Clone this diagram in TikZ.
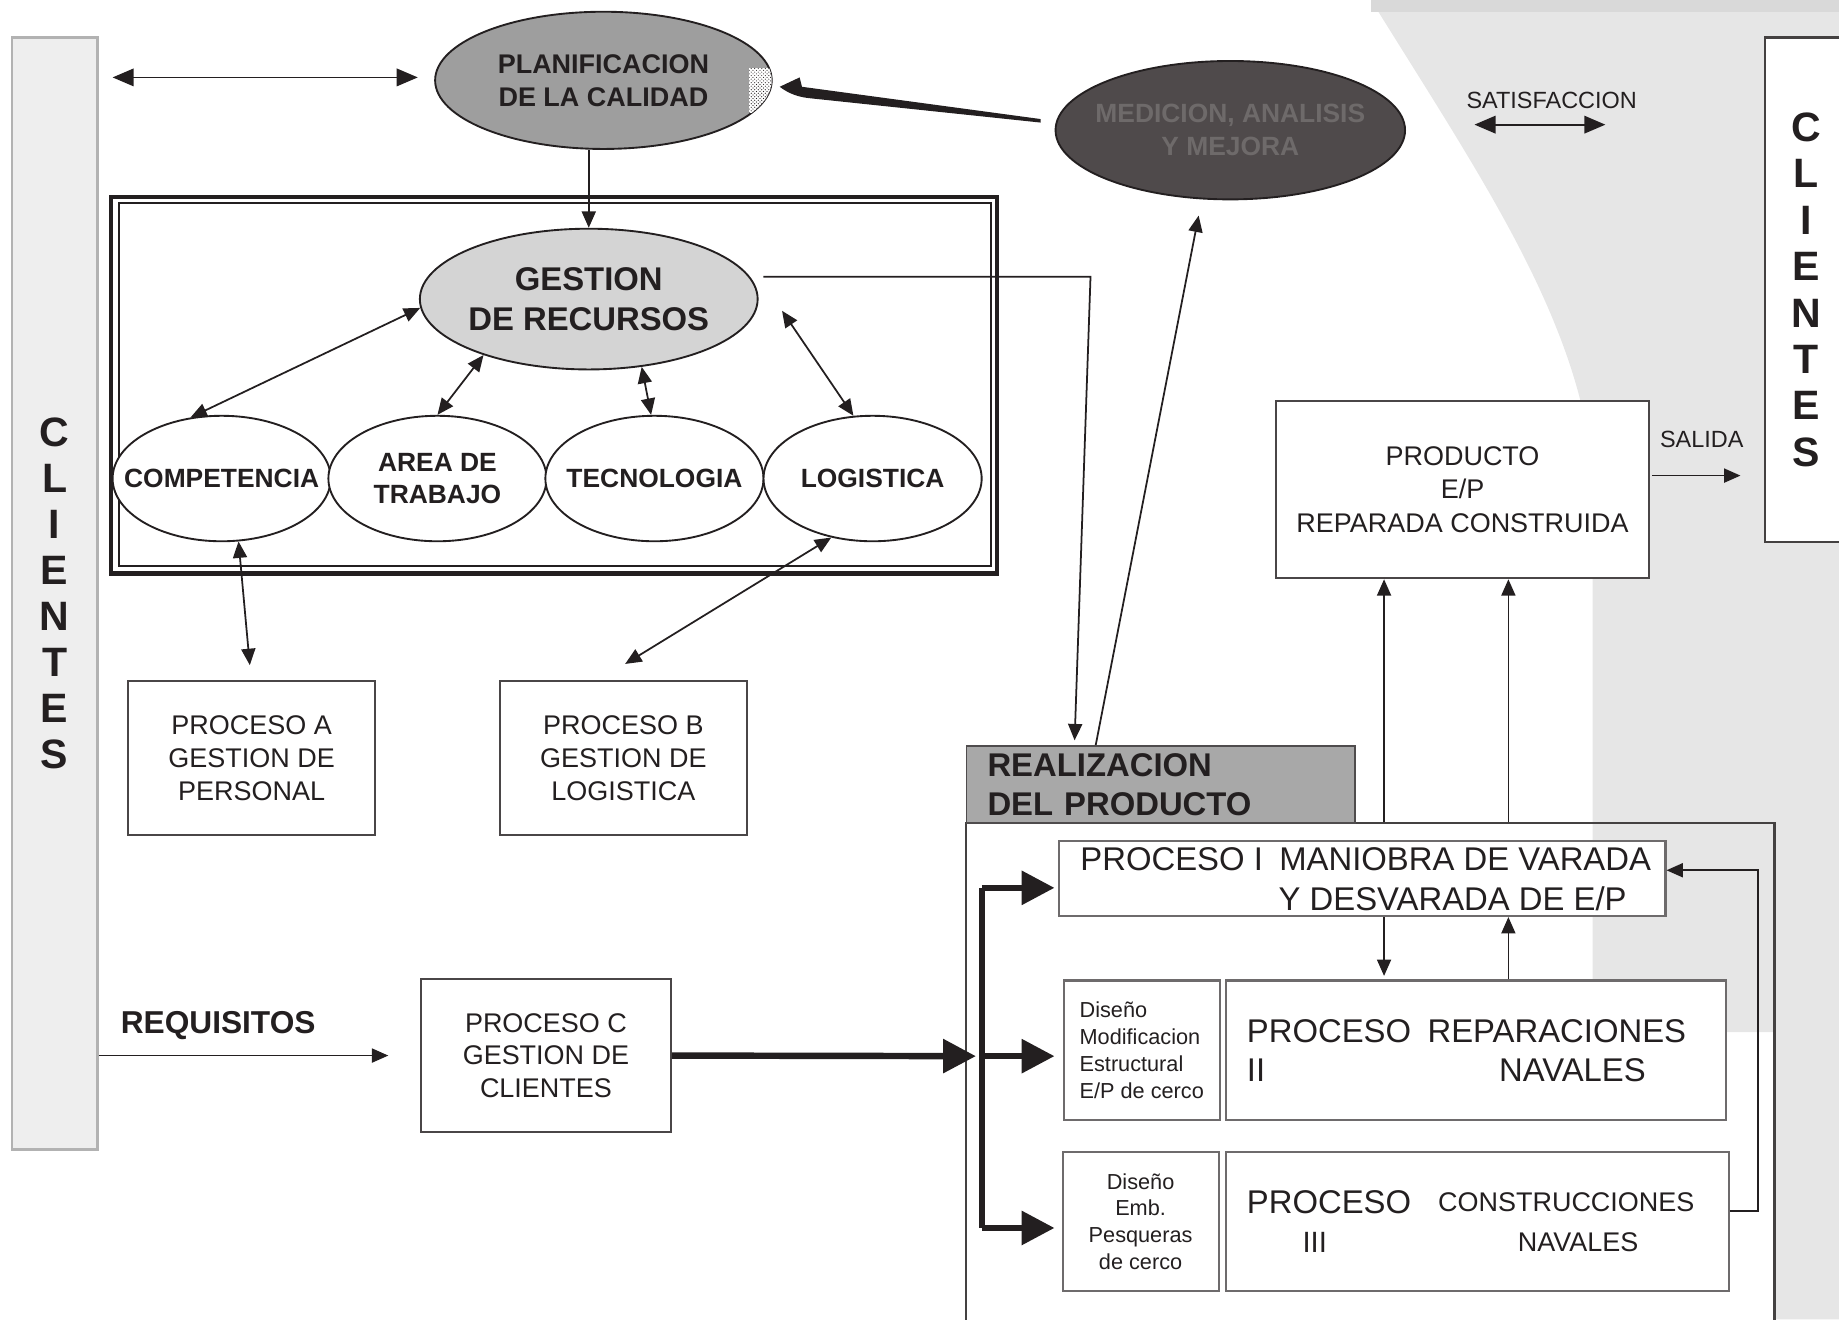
\documentclass[tikz,border=0pt]{standalone}
\usepackage{fontspec}
\setmainfont{Liberation Sans}
\usetikzlibrary{arrows.meta,calc,shapes.geometric,patterns}
\definecolor{ink}{HTML}{231F20}
\definecolor{boxc}{HTML}{4A4647}
\definecolor{medc}{HTML}{4F4A4B}
\definecolor{medt}{HTML}{6E6A6A}
\definecolor{planc}{HTML}{9E9E9E}
\definecolor{gestc}{HTML}{D4D4D4}
\definecolor{headc}{HTML}{A8A8A8}
\definecolor{bgc}{HTML}{E6E6E6}
\definecolor{barc}{HTML}{EEEEEE}
\newcommand\fsz[2]{\fontsize{#1}{#2}\selectfont}
\begin{document}
\begin{tikzpicture}[x=1pt,y=-1pt,
  thintip/.tip={Triangle[length=14pt,width=12pt]},
  widetip/.tip={Triangle[length=18pt,width=15pt]},
  fattip/.tip={Triangle[length=28pt,width=28pt]},
  ln/.style={draw=ink,line width=1.5pt},
  arr/.style={ln,-thintip},
  darr/.style={ln,thintip-thintip},
  wdarr/.style={ln,widetip-widetip},
  fat/.style={draw=ink,line width=5.5pt},
  fatarr/.style={fat,-fattip},
  box/.style={draw=boxc,line width=1.8pt,fill=white,inner sep=0pt,align=center,text=ink},
  oval/.style={ellipse,draw=ink,line width=1.6pt,inner sep=0pt},
  txt/.style={inner sep=0pt,text=ink,align=center},
]
\useasboundingbox (0,0) rectangle (1568,1125);
\clip (0,0) rectangle (1568,1125);

% soft grey backdrop on the right
\fill[bgc] (1169,0) .. controls (1262,150) and (1345,270) .. (1358,400)
  -- (1358,880) -- (1513,880) -- (1513,1125) -- (1568,1125) -- (1568,0) -- cycle;
\fill[gray!30] (1169,0) rectangle (1568,10);

% customers, both sides
\node[draw=gray!60,line width=2pt,fill=barc,minimum width=73,minimum height=948,
  inner sep=0,align=center,text=ink,font=\fsz{35}{39.3}\bfseries] (cl) at (46.5,506)
  {C\\L\\I\\E\\N\\T\\E\\S};
\node[draw=ink!85,line width=2pt,fill=white,minimum width=70,minimum height=430,
  inner sep=0,align=center,text=ink,font=\fsz{35}{39.6}\bfseries] (cr) at (1540,247)
  {C\\L\\I\\E\\N\\T\\E\\S};

% product realization frame
\node[draw=ink!85,line width=1.8pt,minimum width=689,minimum height=446,inner sep=0] (rf) at (1168.5,925) {};
\node[draw=ink!80,line width=1.5pt,fill=headc,minimum width=331,minimum height=66,inner sep=0,
  text width=295,align=left,text=ink,font=\fsz{28}{33}\bfseries] (rh) at (989.5,669)
  {REALIZACION\\DEL PRODUCTO};

% top ellipses
\node[oval,fill=planc,minimum width=287,minimum height=117] (pq) at (514.5,68.5) {};
\node[txt,font=\fsz{23}{28}\bfseries] (pqt) at (pq) {PLANIFICACION\\DE LA CALIDAD};
\begin{scope}
  \clip (514.5,68.5) ellipse [x radius=143.5, y radius=58.5];
  \fill[white] (639,58) rectangle (660,96);
  \fill[pattern=crosshatch dots,pattern color=ink] (639,58) rectangle (660,96);
\end{scope}
\node[oval,fill=medc,minimum width=298,minimum height=118] (md) at (1049,111) {};
\node[txt,text=medt,font=\fsz{22.5}{28}\bfseries] (mdt) at (md) {MEDICION, ANALISIS\\Y MEJORA};

% resources block
\node[draw=ink,line width=3.5pt,minimum width=755,minimum height=321,inner sep=0] (rb) at (472.5,328.5) {};
\draw[ink,line width=1.5pt] ($(rb.south west)+(8,-8)$) rectangle ($(rb.north east)+(-7,7)$);
\node[oval,fill=gestc,minimum width=288,minimum height=120] (gr) at (502,255) {};
\node[txt,font=\fsz{28}{34}\bfseries] (grt) at (gr) {GESTION\\DE RECURSOS};
\node[oval,fill=white,minimum width=186,minimum height=107] (cp) at (189,408) {};
\node[oval,fill=white,minimum width=186,minimum height=107] (ar) at (373,408) {};
\node[oval,fill=white,minimum width=186,minimum height=107] (tc) at (558,408) {};
\node[oval,fill=white,minimum width=186,minimum height=107] (lg) at (744,408) {};
\node[txt,font=\fsz{22.5}{28}\bfseries] (cpt) at (cp) {COMPETENCIA};
\node[txt,font=\fsz{22.5}{28}\bfseries] (art) at (ar) {AREA DE\\TRABAJO};
\node[txt,font=\fsz{22.5}{28}\bfseries] (tct) at (tc) {TECNOLOGIA};
\node[txt,font=\fsz{22.5}{28}\bfseries] (lgt) at (lg) {LOGISTICA};

% process boxes
\node[box,minimum width=211,minimum height=131,font=\fsz{23}{28}] (pa) at (214.5,646.5) {PROCESO A\\GESTION DE\\PERSONAL};
\node[box,minimum width=211,minimum height=131,font=\fsz{23}{28}] (pb) at (531.5,646.5) {PROCESO B\\GESTION DE\\LOGISTICA};
\node[box,minimum width=213,minimum height=130,font=\fsz{23}{28}] (pc) at (465.5,900) {PROCESO C\\GESTION DE\\CLIENTES};
\node[box,minimum width=318,minimum height=151,font=\fsz{23}{28.5}] (pr) at (1247,417.5) {PRODUCTO\\E/P\\REPARADA CONSTRUIDA};

\node[box,draw=boxc!80,minimum width=517,minimum height=64] (p1) at (1161.5,749) {};
\node[box,draw=boxc!80,minimum width=133,minimum height=119,align=left,font=\fsz{18.5}{23}] (d1) at (973.5,895.5)
  {Diseño\\Modificacion\\Estructural\\E/P de cerco};
\node[box,draw=boxc!80,minimum width=427,minimum height=119] (p2) at (1258.5,895.5) {};
\node[box,draw=boxc!80,minimum width=133,minimum height=119,font=\fsz{18.5}{22.7}] (d2) at (972.5,1041.5)
  {Diseño\\Emb.\\Pesqueras\\de cerco};
\node[box,draw=boxc!80,minimum width=429,minimum height=119] (p3) at (1259.5,1041.5) {};

\node[txt,anchor=base west,font=\fsz{28}{34}] (p1a) at (921,742) {PROCESO I\hspace{14pt}MANIOBRA DE VARADA};
\node[txt,anchor=base west,font=\fsz{28}{34}] (p1b) at (1090,776) {Y DESVARADA DE E/P};
\node[txt,anchor=base west,font=\fsz{28}{34}] (p2a) at (1063,889) {PROCESO\hspace{14pt}REPARACIONES};
\node[txt,anchor=base west,font=\fsz{28}{34}] (p2b) at (1063,922) {II};
\node[txt,anchor=base west,font=\fsz{28}{34}] (p2c) at (1278,922) {NAVALES};
\node[txt,anchor=base west,font=\fsz{28}{34}] (p3a) at (1063,1035) {PROCESO};
\node[txt,anchor=base west,font=\fsz{23}{28}] (p3b) at (1226,1033) {CONSTRUCCIONES};
\node[txt,anchor=base,font=\fsz{25}{28}] (p3c) at (1121,1068) {III};
\node[txt,anchor=base west,font=\fsz{23}{28}] (p3d) at (1294,1067) {NAVALES};

% free labels
\node[txt,font=\fsz{27}{30}\bfseries] (rq) at (186,874) {REQUISITOS};
\node[txt,font=\fsz{20}{24}] (sat) at (1323,86) {SATISFACCION};
\node[txt,font=\fsz{20}{24}] (sal) at (1451,375) {SALIDA};

% planning links
\draw[wdarr] ($(cl.east|-pq.west)+(12,-2.5)$) -- ($(pq.west)+(-14,-2.5)$);
\draw[arr] (gr.north|-pq.south) -- (gr.north);
\coordinate (swT) at ($(pq.east)+(6,5.5)$);
\coordinate (swS) at ($(md.west)+(-12,-8)$);
\fill[ink] (swT) -- ($(swT)+(17,-8)$) -- ($(swT)+(19,0)$) -- ($(swS)+(0,-1.5)$) -- ($(swS)+(0,1.5)$)
  -- ($(swT)+(28,10)$) .. controls ($(swT)+(16,9)$) and ($(swT)+(8,6)$) .. (swT) -- cycle;

% resource links
\draw[darr] (gr.183) -- (cp.117);
\draw[darr] (gr.208) -- (ar.north);
\draw[darr] (gr.-52) -- (tc.93);
\draw[darr] ($(gr.east)+(20,10)$) -- (lg.107);
\draw[darr] (cp.-75) -- ($(pa.north)+(-1.5,-13)$);
\draw[darr] (lg.235) -- ($(pb.north)+(1.5,-14)$);

% links to realization and measurement
\draw[arr] ($(gr.east)+(4,-19)$) -- ($(gr.east)+(283,-19)$) -- ($(rh.north west)+(93,-4)$);
\draw[arr] ($(rh.north west)+(111,0)$) -- ($(md.south)+(-27,13)$);
\draw[arr] ($(pr.east)+(2,-12)$) -- ($(cr.west|-pr.east)+(-20,-12)$);
\coordinate (s1) at ($(sat.south west)+(7,13)$);
\coordinate (s2) at ($(sat.south east)+(-27,13)$);
\draw[wdarr] (s1) -- (s2);

% realization internals
\draw[arr] ($(rf.north west)+(357,0)$) -- ($(pr.south west)+(93,0)$);
\draw[arr] ($(rf.north west)+(463,0)$) -- ($(pr.south west)+(199,0)$);
\draw[arr] ($(p1.south west)+(278,0)$) -- ($(p2.north west)+(136,-3)$);
\draw[arr] ($(p2.north west)+(242,0)$) -- ($(p1.south west)+(384,0)$);
\draw[arr] ($(p3.east)+(0,-9)$) -| ($(p1.east)+(78,-7)$) -- ($(p1.east)+(0,-7)$);

% customer requirements and distribution
\draw[arr] (cl.east|-pc.west) -- ($(pc.west)+(-27,0)$);
\coordinate (jt) at ($(p1.west)+(-65,8)$);
\coordinate (jn) at ($(d1.west)+(-69,5)$);
\coordinate (jb) at ($(d2.west)+(-68,5.5)$);
\draw[fat] (jt) -- (jb);
\draw[fatarr] (pc.east) -- ($(jn)+(-5,0)$);
\draw[fatarr] (jt) -- ($(p1.west)+(-3,8)$);
\draw[fatarr] (jn) -- ($(d1.west)+(-7,5)$);
\draw[fatarr] (jb) -- ($(d2.west)+(-6,5.5)$);
\end{tikzpicture}
\end{document}
